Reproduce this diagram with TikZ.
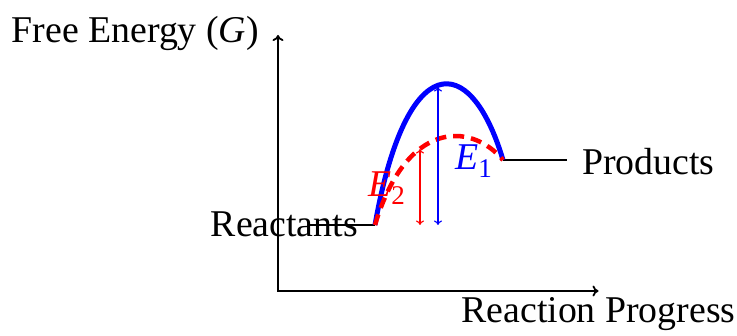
\documentclass[tikz,border=0pt]{standalone}
\usepackage{fontspec}
\usetikzlibrary{arrows.meta}
\setmainfont{Liberation Serif}
\tikzset{
  lbl/.style={inner sep=0pt, font=\fontsize{37.8}{44}\selectfont},
  axis/.style={line width=1.8pt, {To[length=6pt,width=11pt]}-{To[length=6pt,width=11pt]}},
  level/.style={line width=1.8pt},
  pathA/.style={blue, line width=5pt},
  pathB/.style={red, line width=4.5pt, dash pattern=on 11pt off 7pt},
  gap/.style={line width=1.1pt, {To[length=4.5pt,width=8pt]}-{To[length=4.5pt,width=8pt]}},
}
\newcommand{\enlbl}[1]{\textit{E}\raisebox{-0.2em}{\fontsize{27}{27}\selectfont #1}}
\begin{document}
\begin{tikzpicture}[x=1pt,y=-1pt]
\useasboundingbox (0,0) rectangle (737,336);
\coordinate (O) at (278,291);
\coordinate (ytip) at (278,35);
\coordinate (xtip) at (598.5,291);
\coordinate (r1) at (310,225);
\coordinate (r2) at (375,225);
\coordinate (p1) at (503,160);
\coordinate (p2) at (567,160);
\coordinate (a1b) at (438,225);
\coordinate (a1t) at (438,87);
\coordinate (a2b) at (420,225);
\coordinate (a2t) at (420,149);
\draw[axis] (ytip) |- (xtip);
\node[lbl, anchor=base east] (ylab) at (259,43) {Free Energy (\textit{G})};
\node[lbl, anchor=base] (xlab) at (598.5,323) {Reaction Progress};
\draw[level] (r1) -- (r2);
\draw[level] (p1) -- (p2);
\node[lbl, anchor=base east] (react) at (358,237) {Reactants};
\node[lbl, anchor=base west] (prod) at (582,175) {Products};
\draw[pathA] (r2) .. controls (406,49.4) and (470,49.4) .. (p1);
\draw[pathB] (r2) .. controls (406,121) and (470,121) .. (p1);
\draw[gap, blue] (a1b) -- (a1t);
\draw[gap, red] (a2b) -- (a2t);
\node[lbl, anchor=base west, blue] (e1) at (455,170) {\enlbl{1}};
\node[lbl, anchor=base west, red] (e2) at (368,197) {\enlbl{2}};
\end{tikzpicture}
\end{document}
